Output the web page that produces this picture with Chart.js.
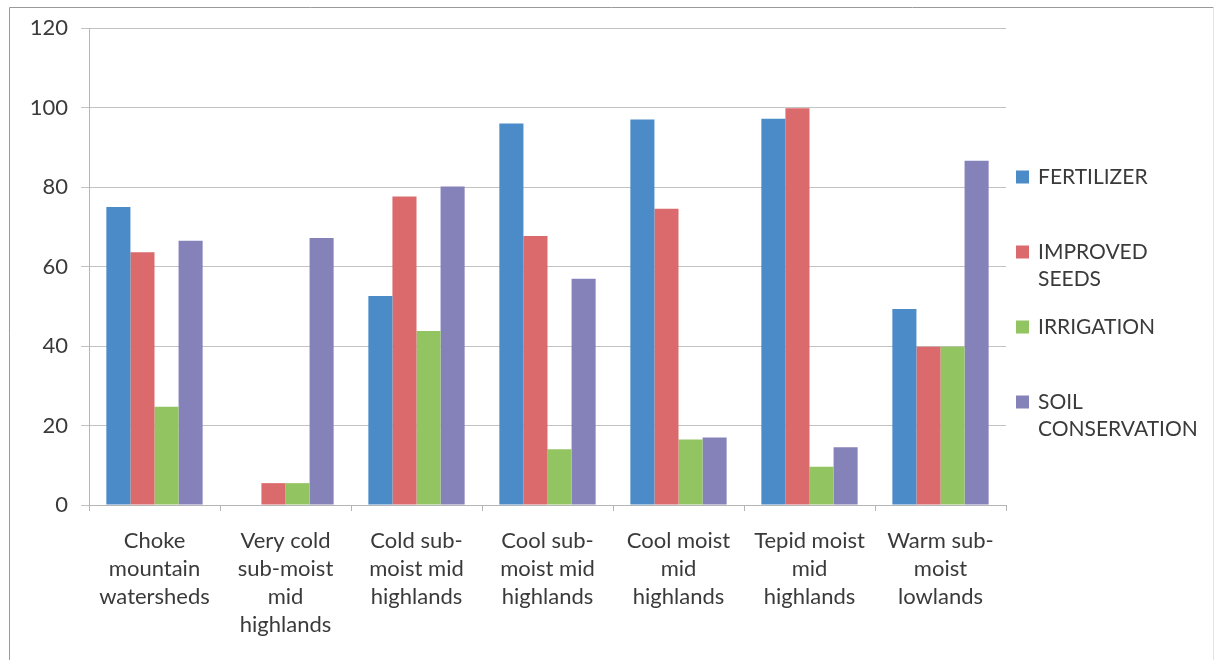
<!DOCTYPE html>
<html>
<head>
<meta charset="utf-8">
<script src="https://cdn.jsdelivr.net/npm/chart.js@4.4.1/dist/chart.umd.min.js"></script>
<style>
  html, body { margin: 0; padding: 0; background: #ffffff; }
  #wrap { width: 1215px; height: 660px; position: relative; }
</style>
</head>
<body>
<div id="wrap"><canvas id="c" width="1215" height="660"></canvas></div>
<script>
// Agro-ecological zones (multi-line category labels)
const zones = [
  ["Choke", "mountain", "watersheds"],
  ["Very cold", "sub-moist", "mid", "highlands"],
  ["Cold sub-", "moist mid", "highlands"],
  ["Cool sub-", "moist mid", "highlands"],
  ["Cool moist", "mid", "highlands"],
  ["Tepid moist", "mid", "highlands"],
  ["Warm sub-", "moist", "lowlands"]
];

// Adoption of practices per zone
const fertilizer       = [75.0, 0,    52.6, 96.0, 97.0, 97.2, 49.3];
const improvedSeeds    = [63.6, 5.5,  77.6, 67.7, 74.5, 99.8, 39.8];
const irrigation       = [24.7, 5.5,  43.8, 14.0, 16.5,  9.6, 39.8];
const soilConservation = [66.5, 67.2, 80.1, 56.9, 17.0, 14.5, 86.6];

// Series names, with the line breaks used in the legend
const seriesNames = [
  ["FERTILIZER"],
  ["IMPROVED", "SEEDS"],
  ["IRRIGATION"],
  ["SOIL", "CONSERVATION"]
];
const seriesColors = ["#4a8bc8", "#da6a6b", "#93c462", "#8582ba"];

const yTicks = [0, 20, 40, 60, 80, 100, 120];

const FONT = "Lato, 'Open Sans', sans-serif";
const TEXT = "#3a3a3a";

// Frame around the whole chart
const framePlugin = {
  id: "frame",
  beforeDraw(chart) {
    const ctx = chart.ctx;
    ctx.save();
    ctx.fillStyle = "#ffffff";
    ctx.fillRect(0, 0, chart.width, chart.height);
    ctx.strokeStyle = "#9a9a9a";
    ctx.lineWidth = 1;
    ctx.beginPath();
    ctx.moveTo(9.5, chart.height);
    ctx.lineTo(9.5, 7.5);
    ctx.lineTo(1213.5, 7.5);
    ctx.stroke();
    ctx.strokeStyle = "#e4e4e4";
    ctx.beginPath();
    ctx.moveTo(1213.5, 7.5);
    ctx.lineTo(1213.5, chart.height);
    ctx.stroke();
    ctx.restore();
  }
};

// Legend on the right, with wrapped series names
const sideLegend = {
  id: "sideLegend",
  afterDraw(chart) {
    const ctx = chart.ctx;
    const x0 = 1016, textX = 1038;
    const firstY = 177, step = 75, lineH = 27, box = 13;
    ctx.save();
    ctx.font = "21px " + FONT;
    ctx.textBaseline = "middle";
    ctx.textAlign = "left";
    chart.data.datasets.forEach((ds, i) => {
      const y = firstY + i * step;
      ctx.fillStyle = ds.backgroundColor;
      ctx.fillRect(x0, y - box / 2, box, box);
      ctx.fillStyle = TEXT;
      seriesNames[i].forEach((line, j) => {
        ctx.fillText(line, textX, y + j * lineH);
      });
    });
    ctx.restore();
  }
};

const datasets = [fertilizer, improvedSeeds, irrigation, soilConservation].map((vals, i) => ({
  label: seriesNames[i].join(" "),
  data: vals,
  backgroundColor: seriesColors[i],
  borderWidth: 0,
  categoryPercentage: 0.735,
  barPercentage: 1.0
}));

new Chart(document.getElementById("c"), {
  type: "bar",
  data: { labels: zones, datasets },
  plugins: [framePlugin, sideLegend],
  options: {
    responsive: false,
    animation: false,
    devicePixelRatio: 1,
    layout: { padding: { left: 0, top: 28, right: 209, bottom: 0 } },
    plugins: {
      legend: { display: false },
      tooltip: { enabled: false }
    },
    scales: {
      x: {
        offset: true,
        grid: {
          display: true,
          offset: true,
          drawOnChartArea: false,
          drawTicks: true,
          tickLength: 6,
          color: "#b5b5b5"
        },
        border: { display: true, color: "#b5b5b5" },
        ticks: {
          color: TEXT,
          font: { family: FONT, size: 22, lineHeight: 28 / 22 },
          padding: 16,
          maxRotation: 0,
          autoSkip: false
        },
        afterFit(scale) { scale.height = 155; }
      },
      y: {
        min: 0,
        max: 120,
        afterBuildTicks(scale) { scale.ticks = yTicks.map(v => ({ value: v })); },
        grid: {
          color: "#c2c2c2",
          tickLength: 8,
          drawTicks: true
        },
        border: { display: true, color: "#b5b5b5" },
        ticks: {
          color: TEXT,
          font: { family: FONT, size: 22 },
          padding: 13
        },
        afterFit(scale) { scale.width = 89; }
      }
    }
  }
});
</script>
</body>
</html>
